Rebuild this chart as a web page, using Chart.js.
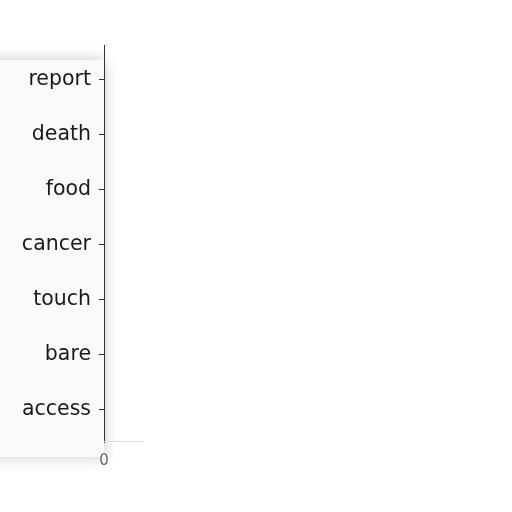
<!DOCTYPE html>
<html>
<head>
<meta charset="utf-8">
<script src="https://cdn.jsdelivr.net/npm/chart.js@4"></script>
<style>
  html, body { margin: 0; padding: 0; background: #fff; }
  #wrap { width: 512px; height: 512px; }
</style>
</head>
<body>
<div id="wrap"><canvas id="chart" width="512" height="512"></canvas></div>
<script>
const categories = ['report', 'death', 'food', 'cancer', 'touch', 'bare', 'access'];
const values = [0, 0, 0, 0, 0, 0, 0];
const xTicks = [0];

// soft grey panel behind the labels, and the axis line running a bit past the bands
const panelPlugin = {
  id: 'panel',
  beforeDraw(chart){
    const c = chart.ctx;
    const a = chart.chartArea;
    c.save();
    c.shadowColor = 'rgba(0,0,0,0.22)';
    c.shadowBlur = 14;
    c.fillStyle = '#fafafa';
    c.beginPath();
    c.rect(-20, a.top + 8, a.left + 20, a.bottom - a.top + 12);
    c.fill();
    c.restore();
  },
  afterDraw(chart){
    const c = chart.ctx;
    const a = chart.chartArea;
    c.save();
    c.strokeStyle = '#333';
    c.lineWidth = 1;
    c.beginPath();
    c.moveTo(a.left + 0.5, a.top - 7);
    c.lineTo(a.left + 0.5, a.bottom + 6);
    c.stroke();
    c.strokeStyle = '#ddd';
    c.beginPath();
    c.moveTo(a.left, a.bottom + 4.5);
    c.lineTo(a.left + 40, a.bottom + 4.5);
    c.stroke();
    c.restore();
  }
};

const ctx = document.getElementById('chart').getContext('2d');
new Chart(ctx, {
  type: 'bar',
  data: {
    labels: categories,
    datasets: [{
      data: values,
      backgroundColor: '#4c72b0'
    }]
  },
  options: {
    indexAxis: 'y',
    responsive: false,
    animation: false,
    layout: { padding: { top: 52, bottom: 35, right: 10, left: 0 } },
    plugins: {
      legend: { display: false },
      tooltip: { enabled: false }
    },
    scales: {
      x: {
        min: 0,
        max: 1,
        grid: { display: false },
        border: { display: false },
        afterBuildTicks: function(axis){
          axis.ticks = xTicks.map(v => ({ value: v }));
        },
        ticks: {
          color: '#666',
          font: { family: 'DejaVu Sans', size: 15 },
          padding: 7,
          maxRotation: 0
        }
      },
      y: {
        afterFit: function(axis){ axis.width = 104; },
        grid: { drawOnChartArea: false, offset: false, tickLength: 5, color: '#333' },
        border: { display: false },
        ticks: {
          color: '#1a1a1a',
          font: { family: 'DejaVu Sans', size: 20.5 },
          padding: 8
        }
      }
    }
  },
  plugins: [panelPlugin]
});
</script>
</body>
</html>
